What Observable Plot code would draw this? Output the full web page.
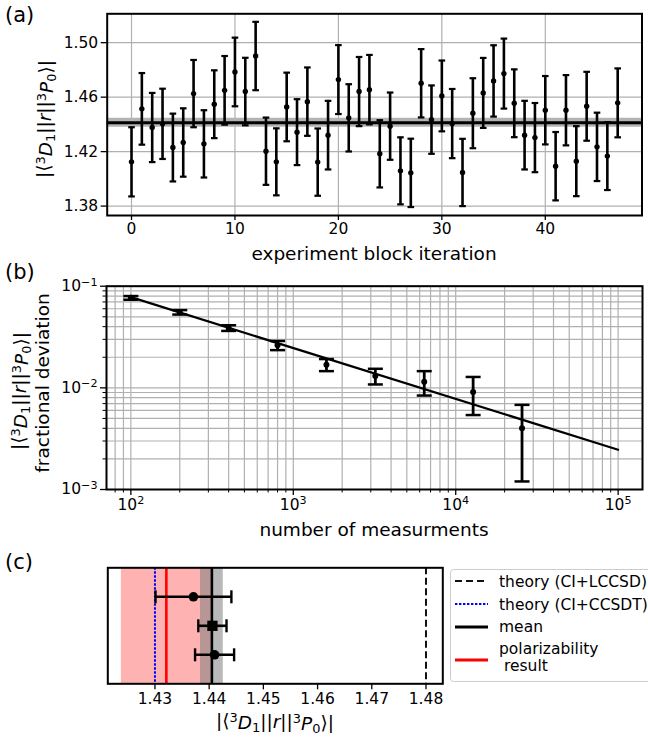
<!DOCTYPE html>
<html><head><meta charset="utf-8">
<script src="https://cdn.jsdelivr.net/npm/d3@7"></script>
<script src="https://cdn.jsdelivr.net/npm/@observablehq/plot@0.6"></script>
<style>
body{margin:0;background:#fff;}
#root{position:relative;width:648px;height:742px;overflow:hidden;background:#fff;font-family:"DejaVu Sans",sans-serif;}
#root svg.panel{position:absolute;left:0;}
#overlay{position:absolute;left:0;top:0;}
</style></head><body><div id="root"></div>
<script>
// ---------- Panel (a) data ----------
const blockIter = [0,1,2,3,4,5,6,7,8,9,10,11,12,13,14,15,16,17,18,19,20,21,22,23,24,25,26,27,28,29,30,31,32,33,34,35,36,37,38,39,40,41,42,43,44,45,46,47];
const blockVal = [1.4125,1.4514,1.4377,1.4404,1.4230,1.4267,1.4626,1.4257,1.4548,1.4650,1.4785,1.4641,1.4902,1.4203,1.4125,1.4528,1.4343,1.4567,1.4123,1.4321,1.4729,1.4448,1.4641,1.4655,1.4184,1.4387,1.4059,1.4044,1.4702,1.4435,1.4609,1.4406,1.4047,1.4482,1.4631,1.4719,1.4773,1.4555,1.4321,1.4303,1.4504,1.4093,1.4504,1.4130,1.4533,1.4235,1.4167,1.4558];
const blockErr = [0.0254,0.0263,0.0254,0.0258,0.0249,0.0251,0.0247,0.0247,0.0249,0.0252,0.0252,0.0248,0.0251,0.0247,0.0246,0.0252,0.0242,0.0251,0.0247,0.0252,0.0253,0.0247,0.0254,0.0255,0.0247,0.0247,0.0246,0.0251,0.0251,0.0251,0.0260,0.0254,0.0247,0.0257,0.0257,0.0262,0.0257,0.0249,0.0252,0.0254,0.0251,0.0251,0.0258,0.0257,0.0253,0.0251,0.0249,0.0253];
const blockMean = 1.4412;
const blockMeanErr = 0.0033;
const aXTicks = [0, 10, 20, 30, 40];
const aYTicks = [1.38, 1.42, 1.46, 1.50];

// ---------- Panel (b) data ----------
const nMeas = [100, 200, 400, 800, 1600, 3200, 6400, 12800, 25600];
const fracDev = [0.0768, 0.0554, 0.0388, 0.0262, 0.0169, 0.0131, 0.0115, 0.0091, 0.0040];
const fracErr = [0.0032, 0.0028, 0.0025, 0.0027, 0.0023, 0.0023, 0.0031, 0.0037, 0.0028];
const fitN = [100, 100000];
const fitDev = [0.0780, 0.00246];
const bXMajor = [100, 1000, 10000, 100000];
const bXMinor = [80, 90, 200, 300, 400, 500, 600, 700, 800, 900, 2000, 3000, 4000, 5000, 6000, 7000, 8000, 9000, 20000, 30000, 40000, 50000, 60000, 70000, 80000, 90000];
const bYMajor = [0.001, 0.01, 0.1];
const bYMinor = [0.002, 0.003, 0.004, 0.005, 0.006, 0.007, 0.008, 0.009, 0.02, 0.03, 0.04, 0.05, 0.06, 0.07, 0.08, 0.09];

// ---------- Panel (c) data ----------
const cRows = [3, 2, 1];
const cVal = [1.4371, 1.4406, 1.4410];
const cErr = [0.0070, 0.0026, 0.0036];
const cMarker = ["circle", "square", "circle"];
const theoryLCCSD = 1.48;
const theoryCCSDT = 1.43;
const meanC = 1.4405;
const meanCErr = 0.0021;
const polarVal = 1.4321;
const polarErr = 0.0083;
const cXTicks = [1.43, 1.44, 1.45, 1.46, 1.47, 1.48];
const legendLabels = ["theory (CI+LCCSD)", "theory (CI+CCSDT)", "mean", "polarizability", " result"];

// ---------- helpers ----------
const FONT = "DejaVu Sans";
const GRID = {stroke: "#b0b0b0", strokeOpacity: 1, strokeWidth: 1.2};
const hCap = {draw(ctx, size) { const r = Math.sqrt(size / Math.PI); ctx.moveTo(-r, 0); ctx.lineTo(r, 0); }};
const vCap = {draw(ctx, size) { const r = Math.sqrt(size / Math.PI); ctx.moveTo(0, -r); ctx.lineTo(0, r); }};
const baseStyle = {fontFamily: FONT, fontSize: "15.5px", background: "transparent", overflow: "visible", color: "black"};
const root = document.getElementById("root");
function place(svg, top) {
  svg.classList.add("panel");
  svg.style.top = top + "px";
  root.appendChild(svg);
}

// ---------- Panel (a) ----------
const aData = blockIter.map((x, i) => ({x, v: blockVal[i], e: blockErr[i]}));
const plotA = Plot.plot({
  width: 648, height: 262,
  marginLeft: 106.7, marginRight: 6.5, marginTop: 13.3, marginBottom: 47,
  style: baseStyle,
  x: {domain: [-2.35, 49.35]},
  y: {domain: [1.3731, 1.5212]},
  marks: [
    Plot.gridX(aXTicks, GRID),
    Plot.gridY(aYTicks, GRID),
    Plot.rect([0], {y1: blockMean - blockMeanErr, y2: blockMean + blockMeanErr, fill: "#b3b3b3"}),
    Plot.ruleY([blockMean], {stroke: "black", strokeWidth: 3.2}),
    Plot.ruleX(aData, {x: "x", y1: d => d.v - d.e, y2: d => d.v + d.e, stroke: "black", strokeWidth: 2.6}),
    Plot.dot(aData, {x: "x", y: d => d.v + d.e, symbol: hCap, r: 3.3, stroke: "black", fill: "none", strokeWidth: 2.2}),
    Plot.dot(aData, {x: "x", y: d => d.v - d.e, symbol: hCap, r: 3.3, stroke: "black", fill: "none", strokeWidth: 2.2}),
    Plot.dot(aData, {x: "x", y: "v", r: 2.7, fill: "black", stroke: "none"}),
    Plot.frame({stroke: "black", strokeWidth: 2}),
    Plot.axisX(aXTicks, {label: null, tickSize: 5, tickPadding: 2, strokeWidth: 1.3}),
    Plot.axisY(aYTicks, {label: null, tickSize: 6, tickPadding: 3, strokeWidth: 1.3, tickFormat: d => d.toFixed(2)})
  ]
});
place(plotA, 0);

// ---------- Panel (b) ----------
const bData = nMeas.map((n, i) => ({n, v: fracDev[i], e: fracErr[i]}));
const fitData = fitN.map((n, i) => ({n, v: fitDev[i]}));
const plotB = Plot.plot({
  width: 648, height: 283,
  marginLeft: 106, marginRight: 6, marginTop: 23.7, marginBottom: 56,
  style: baseStyle,
  x: {type: "log", domain: [70.79, 141254]},
  y: {type: "log", domain: [0.001, 0.1]},
  marks: [
    Plot.gridX(bXMinor, GRID),
    Plot.gridX(bXMajor, GRID),
    Plot.gridY(bYMinor, GRID),
    Plot.gridY(bYMajor, GRID),
    Plot.line(fitData, {x: "n", y: "v", stroke: "black", strokeWidth: 2.2}),
    Plot.ruleX(bData, {x: "n", y1: d => d.v - d.e, y2: d => d.v + d.e, stroke: "black", strokeWidth: 2.8}),
    Plot.dot(bData, {x: "n", y: d => d.v + d.e, symbol: hCap, r: 7.5, stroke: "black", fill: "none", strokeWidth: 2.5}),
    Plot.dot(bData, {x: "n", y: d => d.v - d.e, symbol: hCap, r: 7.5, stroke: "black", fill: "none", strokeWidth: 2.5}),
    Plot.dot(bData, {x: "n", y: "v", r: 3, fill: "black", stroke: "none"}),
    Plot.frame({stroke: "black", strokeWidth: 2}),
    Plot.axisX(bXMinor, {label: null, tickSize: 3.5, tickFormat: () => "", strokeWidth: 1}),
    Plot.axisX(bXMajor, {label: null, tickSize: 6, tickPadding: 3, strokeWidth: 1.3, tickFormat: d => "10^" + Math.round(Math.log10(d))}),
    Plot.axisY(bYMinor, {label: null, tickSize: 3.5, tickFormat: () => "", strokeWidth: 1}),
    Plot.axisY(bYMajor, {label: null, tickSize: 6, tickPadding: 3, strokeWidth: 1.3, tickFormat: d => "10^\u2212" + Math.round(-Math.log10(d))})
  ]
});
d3.select(plotB).selectAll("text").each(function () {
  const m = this.textContent.match(/^10\^(.+)$/);
  if (m) {
    const t = d3.select(this);
    t.text(null);
    t.append("tspan").text("10");
    t.append("tspan").attr("dy", "-0.48em").attr("font-size", "72%").text(m[1]);
  }
});
place(plotB, 262);

// ---------- Panel (c) ----------
const cData = cRows.map((y, i) => ({y, v: cVal[i], e: cErr[i], m: cMarker[i]}));
const plotC = Plot.plot({
  width: 648, height: 194,
  marginLeft: 107.3, marginRight: 205.7, marginTop: 19.3, marginBottom: 58.7,
  style: baseStyle,
  x: {domain: [1.4213, 1.4831]},
  y: {domain: [0, 4], axis: null},
  marks: [
    Plot.rect([0], {x1: polarVal - polarErr, x2: polarVal + polarErr, fill: "red", fillOpacity: 0.3}),
    Plot.rect([0], {x1: meanC - meanCErr, x2: meanC + meanCErr, fill: "gray", fillOpacity: 0.55}),
    Plot.ruleX([theoryCCSDT], {stroke: "blue", strokeWidth: 2, strokeDasharray: "2.4,1.6"}),
    Plot.ruleX([polarVal], {stroke: "red", strokeWidth: 2.6}),
    Plot.ruleX([meanC], {stroke: "black", strokeWidth: 2.6}),
    Plot.ruleX([theoryLCCSD], {stroke: "#111", strokeWidth: 2, strokeDasharray: "7,3.5"}),
    Plot.ruleY(cData, {y: "y", x1: d => d.v - d.e, x2: d => d.v + d.e, stroke: "black", strokeWidth: 2.6}),
    Plot.dot(cData, {x: d => d.v - d.e, y: "y", symbol: vCap, r: 6.5, stroke: "black", fill: "none", strokeWidth: 2.4}),
    Plot.dot(cData, {x: d => d.v + d.e, y: "y", symbol: vCap, r: 6.5, stroke: "black", fill: "none", strokeWidth: 2.4}),
    Plot.dot(cData.filter(d => d.m === "circle"), {x: "v", y: "y", r: 4.8, fill: "black", stroke: "none"}),
    Plot.dot(cData.filter(d => d.m === "square"), {x: "v", y: "y", symbol: "square", r: 5.8, fill: "black", stroke: "none"}),
    Plot.frame({stroke: "black", strokeWidth: 2}),
    Plot.axisX(cXTicks, {label: null, tickSize: 6, tickPadding: 3, strokeWidth: 1.3, tickFormat: d => d.toFixed(2)})
  ]
});
place(plotC, 548);

// ---------- Overlay: panel letters, axis titles, legend ----------
const ov = d3.select(root).append("svg").attr("id", "overlay")
  .attr("width", 648).attr("height", 742)
  .style("font-family", FONT).style("overflow", "hidden");

function plain(x, y, txt, size, rot) {
  return ov.append("text").attr("transform", `translate(${x},${y}) rotate(${rot || 0})`)
    .attr("text-anchor", "middle").attr("font-size", size).text(txt);
}
function mathLabel(x, y, size, rot) {
  const t = ov.append("text").attr("transform", `translate(${x},${y}) rotate(${rot || 0})`)
    .attr("text-anchor", "middle").attr("font-size", size).style("white-space", "pre");
  const sup = "-0.42em", sub = "0.22em";
  t.append("tspan").text("|\u27E8");
  t.append("tspan").attr("font-size", "70%").attr("dy", sup).text("3");
  t.append("tspan").attr("font-style", "italic").attr("dy", "0.42em").text("D");
  t.append("tspan").attr("font-size", "70%").attr("dy", sub).text("1");
  t.append("tspan").attr("dy", "-0.22em").text("||");
  t.append("tspan").attr("font-style", "italic").text("r");
  t.append("tspan").text("||");
  t.append("tspan").attr("font-size", "70%").attr("dy", sup).text("3");
  t.append("tspan").attr("font-style", "italic").attr("dy", "0.42em").text("P");
  t.append("tspan").attr("font-size", "70%").attr("dy", sub).text("0");
  t.append("tspan").attr("dy", "-0.22em").text("\u27E9|");
  return t;
}

// panel letters
ov.append("text").attr("x", 5).attr("y", 22).attr("font-size", 21).text("(a)");
ov.append("text").attr("x", 5).attr("y", 279).attr("font-size", 21).text("(b)");
ov.append("text").attr("x", 5).attr("y", 569).attr("font-size", 21).text("(c)");

// axis titles
plain(374, 260, "experiment block iteration", 18.5);
mathLabel(50, 119, 18.5, -90);
plain(374, 536, "number of measurments", 18.5);
mathLabel(25, 391, 18.5, -90);
plain(49, 383, "fractional deviation", 18.5, -90);
mathLabel(275, 727, 18.5, 0);

// legend
const lg = ov.append("g");
lg.append("rect").attr("x", 450.5).attr("y", 569.5).attr("width", 230).attr("height", 112)
  .attr("rx", 3).attr("fill", "white").attr("fill-opacity", 0.8).attr("stroke", "#cccccc").attr("stroke-width", 1);
const lx1 = 455, lx2 = 488, tx = 499;
lg.append("line").attr("x1", lx1).attr("x2", lx2).attr("y1", 581).attr("y2", 581)
  .attr("stroke", "#111").attr("stroke-width", 2).attr("stroke-dasharray", "7,4");
lg.append("line").attr("x1", lx1).attr("x2", lx2).attr("y1", 604).attr("y2", 604)
  .attr("stroke", "blue").attr("stroke-width", 2).attr("stroke-dasharray", "2.4,1.6");
lg.append("line").attr("x1", lx1).attr("x2", lx2).attr("y1", 627).attr("y2", 627)
  .attr("stroke", "black").attr("stroke-width", 3);
lg.append("line").attr("x1", lx1).attr("x2", lx2).attr("y1", 660).attr("y2", 660)
  .attr("stroke", "red").attr("stroke-width", 3);
const lBase = [587, 610, 632, 654, 671];
legendLabels.forEach((s, i) => {
  lg.append("text").attr("x", tx).attr("y", lBase[i]).attr("font-size", 15.5)
    .style("white-space", "pre").text(s);
});
</script>
</body></html>
